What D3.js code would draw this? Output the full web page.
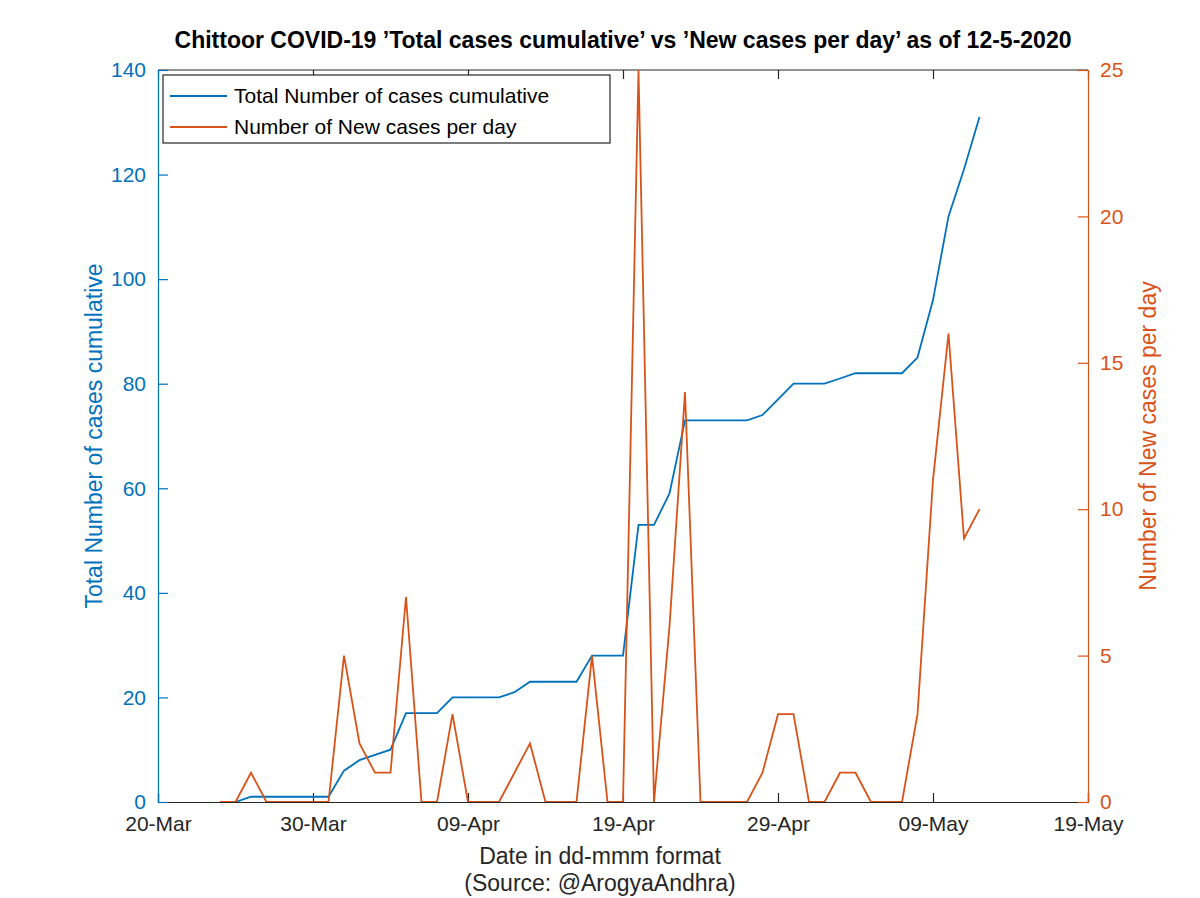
<!DOCTYPE html>
<html>
<head>
<meta charset="utf-8">
<script src="https://cdn.jsdelivr.net/npm/d3@7"></script>
<style>
body { margin: 0; background: #fff; }
svg { display: block; font-family: "Liberation Sans", Arial, Helvetica, sans-serif; }
</style>
</head>
<body>
<svg id="chart" width="1200" height="898"></svg>
<script>
// ---- data ----
const dates = [
  "2020-03-24","2020-03-25","2020-03-26","2020-03-27","2020-03-28","2020-03-29","2020-03-30","2020-03-31",
  "2020-04-01","2020-04-02","2020-04-03","2020-04-04","2020-04-05","2020-04-06","2020-04-07","2020-04-08",
  "2020-04-09","2020-04-10","2020-04-11","2020-04-12","2020-04-13","2020-04-14","2020-04-15","2020-04-16",
  "2020-04-17","2020-04-18","2020-04-19","2020-04-20","2020-04-21","2020-04-22","2020-04-23","2020-04-24",
  "2020-04-25","2020-04-26","2020-04-27","2020-04-28","2020-04-29","2020-04-30","2020-05-01","2020-05-02",
  "2020-05-03","2020-05-04","2020-05-05","2020-05-06","2020-05-07","2020-05-08","2020-05-09","2020-05-10",
  "2020-05-11","2020-05-12"
];
const totalCases = [
  0, 0, 1, 1, 1, 1, 1, 1,
  6, 8, 9, 10, 17, 17, 17, 20,
  20, 20, 20, 21, 23, 23, 23, 23,
  28, 28, 28, 53, 53, 59, 73, 73,
  73, 73, 73, 74, 77, 80, 80, 80,
  81, 82, 82, 82, 82, 85, 96, 112,
  121, 131
];
const newCases = [
  0, 0, 1, 0, 0, 0, 0, 0,
  5, 2, 1, 1, 7, 0, 0, 3,
  0, 0, 0, 1, 2, 0, 0, 0,
  5, 0, 0, 25, 0, 6, 14, 0,
  0, 0, 0, 1, 3, 3, 0, 0,
  1, 1, 0, 0, 0, 3, 11, 16,
  9, 10
];
const xTickDates = ["2020-03-20","2020-03-30","2020-04-09","2020-04-19","2020-04-29","2020-05-09","2020-05-19"];
const leftTicks = [0, 20, 40, 60, 80, 100, 120, 140];
const rightTicks = [0, 5, 10, 15, 20, 25];

const titleText = "Chittoor COVID-19 \u2019Total cases cumulative\u2019 vs \u2019New cases per day\u2019 as of 12-5-2020";
const seriesNames = ["Total Number of cases cumulative", "Number of New cases per day"];

// ---- layout ----
const BLUE = "#0072BD", ORANGE = "#D95319", DARK = "#262626";
const L = 158, R = 1088, T = 70, B = 802;
const parse = d3.utcParse("%Y-%m-%d");
const svg = d3.select("#chart");

const x = d3.scaleUtc().domain([parse("2020-03-20"), parse("2020-05-19")]).range([L, R]);
const yL = d3.scaleLinear().domain([0, 140]).range([B, T]);
const yR = d3.scaleLinear().domain([0, 25]).range([B, T]);

const tickFont = 21;
const labelFont = 23;
const fmt = d3.utcFormat("%d-%b");

// top border
svg.append("line").attr("x1", L).attr("x2", R).attr("y1", T).attr("y2", T)
  .attr("stroke", DARK).attr("stroke-width", 1.2);

// bottom axis
const xAxis = d3.axisBottom(x).tickValues(xTickDates.map(parse)).tickFormat(fmt).tickSize(-9).tickPadding(14);
const gx = svg.append("g").attr("transform", `translate(0,${B})`).call(xAxis);
gx.select(".domain").attr("stroke", DARK).attr("stroke-width", 1.2);
gx.selectAll(".tick line").attr("stroke", DARK).attr("stroke-width", 1.2);
gx.selectAll(".tick text").attr("fill", DARK).style("font-size", tickFont + "px")
  .style("font-family", "Liberation Sans, Arial, sans-serif");

// top ticks
const xTop = d3.axisTop(x).tickValues(xTickDates.map(parse)).tickFormat("").tickSize(-9);
const gxt = svg.append("g").attr("transform", `translate(0,${T})`).call(xTop);
gxt.select(".domain").remove();
gxt.selectAll(".tick line").attr("stroke", DARK).attr("stroke-width", 1.2);

// left axis
const yAxisL = d3.axisLeft(yL).tickValues(leftTicks).tickSize(-10).tickPadding(12);
const gyl = svg.append("g").attr("transform", `translate(${L},0)`).call(yAxisL);
gyl.select(".domain").attr("stroke", BLUE).attr("stroke-width", 1.2);
gyl.selectAll(".tick line").attr("stroke", BLUE).attr("stroke-width", 1.2);
gyl.selectAll(".tick text").attr("fill", BLUE).style("font-size", tickFont + "px")
  .style("font-family", "Liberation Sans, Arial, sans-serif");

// right axis
const yAxisR = d3.axisRight(yR).tickValues(rightTicks).tickSize(-10).tickPadding(12);
const gyr = svg.append("g").attr("transform", `translate(${R},0)`).call(yAxisR);
gyr.select(".domain").attr("stroke", ORANGE).attr("stroke-width", 1.2);
gyr.selectAll(".tick line").attr("stroke", ORANGE).attr("stroke-width", 1.2);
gyr.selectAll(".tick text").attr("fill", ORANGE).style("font-size", tickFont + "px")
  .style("font-family", "Liberation Sans, Arial, sans-serif");

// clip
svg.append("clipPath").attr("id", "clip").append("rect")
  .attr("x", L).attr("y", T).attr("width", R - L).attr("height", B - T);

const dd = dates.map(parse);
const lineL = d3.line().x((d, i) => x(dd[i])).y(d => yL(d));
const lineR = d3.line().x((d, i) => x(dd[i])).y(d => yR(d));

svg.append("path").datum(totalCases).attr("d", lineL)
  .attr("fill", "none").attr("stroke", BLUE).attr("stroke-width", 1.8).attr("clip-path", "url(#clip)");
svg.append("path").datum(newCases).attr("d", lineR)
  .attr("fill", "none").attr("stroke", ORANGE).attr("stroke-width", 1.8).attr("clip-path", "url(#clip)");

// title
svg.append("text").attr("x", 623).attr("y", 48).attr("text-anchor", "middle")
  .attr("fill", "#000").style("font-size", "23px").style("font-weight", "bold").text(titleText);

// axis labels
svg.append("text").attr("x", 600).attr("y", 864).attr("text-anchor", "middle")
  .attr("fill", DARK).style("font-size", labelFont + "px").text("Date in dd-mmm format");
svg.append("text").attr("x", 600).attr("y", 891).attr("text-anchor", "middle")
  .attr("fill", DARK).style("font-size", labelFont + "px").text("(Source: @ArogyaAndhra)");
svg.append("text").attr("transform", `translate(102,436) rotate(-90)`).attr("text-anchor", "middle")
  .attr("fill", BLUE).style("font-size", labelFont + "px").text("Total Number of cases cumulative");
svg.append("text").attr("transform", `translate(1156,436) rotate(-90)`).attr("text-anchor", "middle")
  .attr("fill", ORANGE).style("font-size", labelFont + "px").text("Number of New cases per day");

// legend
const lg = svg.append("g");
lg.append("rect").attr("x", 163).attr("y", 75).attr("width", 447).attr("height", 68)
  .attr("fill", "#fff").attr("stroke", DARK).attr("stroke-width", 1.2);
const legendColors = [BLUE, ORANGE];
seriesNames.forEach((name, i) => {
  const yy = 96 + i * 31;
  lg.append("line").attr("x1", 170).attr("x2", 227).attr("y1", yy).attr("y2", yy)
    .attr("stroke", legendColors[i]).attr("stroke-width", 1.8);
  lg.append("text").attr("x", 234).attr("y", yy + 7).attr("fill", "#000")
    .style("font-size", "21px").text(name);
});
</script>
</body>
</html>
